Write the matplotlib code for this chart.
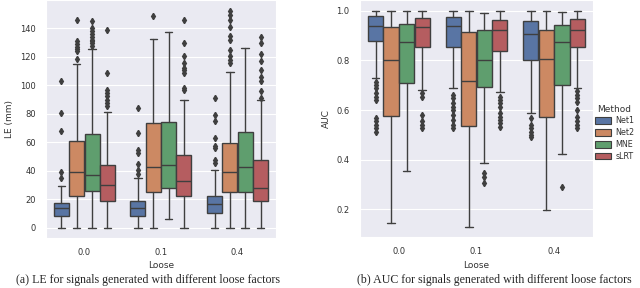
import matplotlib
matplotlib.use('Agg')
import matplotlib.pyplot as plt
from matplotlib.patches import Patch
import seaborn as sns

## Data (rows = methods, cols = loose factors)
loose = ['0.0', '0.1', '0.4']
methods = ['Net1', 'Net2', 'MNE', 'sLRT']

le_whislo = [[0, 0, 0], [0, 0, 0], [0, 6, 0], [0, 0, 0]]
le_q1 = [[8.6, 8.6, 10.7], [22.4, 25.2, 25.2], [25.7, 27.8, 25.2], [19.0, 22.6, 18.9]]
le_med = [[14.0, 13.8, 17.0], [39.2, 42.5, 39.4], [37.0, 44.0, 42.5], [29.9, 32.9, 28.2]]
le_q3 = [[17.7, 19.1, 22.6], [60.7, 73.5, 59.5], [66.0, 74.2, 67.2], [44.0, 51.3, 47.6]]
le_whishi = [[29.4, 34.8, 40.6], [114.8, 132.5, 109.7], [125.8, 137.4, 126.2], [81.2, 90.0, 89.6]]
le_fliers = [
    [[35, 39, 68, 81, 103], [37.6, 41, 44.6, 52.7, 55, 66.7, 84.2], [45.7, 48, 56, 57.4, 63.2, 75, 79, 91.2]],
    [[118.5, 124, 125.5, 127, 129, 131, 146], [149], [115.7, 118, 120.4, 125, 132, 135, 141, 146, 149.6, 152]],
    [[127.4, 129.7, 131, 132, 134, 136, 138, 140, 145.6], [], []],
    [[85.4, 87.7, 90, 92.4, 94.7, 97, 108.7, 138.6], [97, 98.2, 108.7, 110.6, 112.2, 115.7, 120.4, 129.7, 146],
     [91.2, 96, 103, 106, 111, 117, 122, 129.7, 134]],
]

auc_whislo = [[0.728, 0.688, 0.59], [0.144, 0.127, 0.195], [0.355, 0.388, 0.422], [0.681, 0.671, 0.688]]
auc_q1 = [[0.879, 0.856, 0.802], [0.576, 0.537, 0.571], [0.708, 0.695, 0.702], [0.853, 0.839, 0.856]]
auc_med = [[0.94, 0.94, 0.905], [0.80, 0.718, 0.805], [0.876, 0.80, 0.874], [0.934, 0.923, 0.923]]
auc_q3 = [[0.98, 0.974, 0.961], [0.937, 0.914, 0.921], [0.948, 0.923, 0.944], [0.97, 0.964, 0.968]]
auc_whishi = [[1.0, 1.0, 1.0], [1.0, 1.0, 1.0], [1.0, 0.993, 0.995], [1.0, 1.0, 1.0]]
auc_fliers = [
    [[0.715, 0.70, 0.688, 0.668, 0.654, 0.641, 0.567, 0.554, 0.54, 0.527, 0.513],
     [0.661, 0.648, 0.628, 0.614, 0.60, 0.58, 0.56, 0.54, 0.527],
     [0.567, 0.54, 0.527, 0.513, 0.50, 0.493]],
    [[], [], []],
    [[], [0.345, 0.332, 0.305], [0.288]],
    [[0.668, 0.654, 0.58, 0.554, 0.54, 0.527],
     [0.654, 0.641, 0.628, 0.614, 0.587, 0.574, 0.56, 0.547, 0.533],
     [0.675, 0.661, 0.648, 0.634, 0.60, 0.574, 0.554, 0.54, 0.527]],
]

captions = ['(a) LE for signals generated with different loose factors',
            '(b) AUC for signals generated with different loose factors']

## Style
sns.set_style('darkgrid')
colors = [sns.desaturate(c, 0.75) for c in sns.color_palette('deep', 4)]
gray = '#3f3f3f'
offsets = [-0.3, -0.1, 0.1, 0.3]


def draw_boxes(ax, whislo, q1, med, q3, whishi, fliers):
    for m in range(len(methods)):
        stats = []
        for g in range(len(loose)):
            stats.append(dict(whislo=whislo[m][g], q1=q1[m][g], med=med[m][g],
                              q3=q3[m][g], whishi=whishi[m][g], fliers=fliers[m][g]))
        pos = [g + offsets[m] for g in range(len(loose))]
        ax.bxp(stats, positions=pos, widths=0.196, patch_artist=True, manage_ticks=False,
               boxprops=dict(facecolor=colors[m], edgecolor=gray, linewidth=1.0),
               medianprops=dict(color=gray, linewidth=1.0),
               whiskerprops=dict(color=gray, linewidth=1.0),
               capprops=dict(color=gray, linewidth=1.0),
               flierprops=dict(marker='d', markerfacecolor=gray, markeredgecolor=gray,
                               markersize=3.2))
    ax.set_xticks(range(len(loose)))
    ax.set_xticklabels(loose)
    ax.set_xlim(-0.5, 2.5)
    ax.xaxis.grid(False)
    ax.set_xlabel('Loose', fontsize=6.5, color='#333333', labelpad=3)
    ax.tick_params(labelsize=6, colors='#333333', pad=4)


fig = plt.figure(figsize=(6.4, 2.88), dpi=100)
ax1 = fig.add_axes([0.072, 0.174, 0.359, 0.826])
ax2 = fig.add_axes([0.5625, 0.177, 0.364, 0.823])

## Left: LE
draw_boxes(ax1, le_whislo, le_q1, le_med, le_q3, le_whishi, le_fliers)
ax1.set_ylim(-7, 160)
ax1.set_yticks([0, 20, 40, 60, 80, 100, 120, 140])
ax1.set_ylabel('LE (mm)', fontsize=6.5, color='#333333')

## Right: AUC
draw_boxes(ax2, auc_whislo, auc_q1, auc_med, auc_q3, auc_whishi, auc_fliers)
ax2.set_ylim(0.088, 1.044)
ax2.set_yticks([0.2, 0.4, 0.6, 0.8, 1.0])
ax2.set_ylabel('AUC', fontsize=6.5, color='#333333')

handles = [Patch(facecolor=c, edgecolor=gray, linewidth=0.8) for c in colors]
leg = ax2.legend(handles, methods, title='Method', loc='center left', bbox_to_anchor=(1.0, 0.44),
                 frameon=False, fontsize=5.8, title_fontsize=6.5, handlelength=2.0,
                 handleheight=0.9, handletextpad=0.5, labelspacing=0.35,
                 borderpad=0.1, borderaxespad=0.15)
for t in leg.get_texts():
    t.set_color('#333333')
leg.get_title().set_color('#333333')

## Captions
fig.text(0.231, 0.008, captions[0], ha='center', va='bottom', fontsize=8.6, family='Liberation Serif')
fig.text(0.772, 0.008, captions[1], ha='center', va='bottom', fontsize=8.6, family='Liberation Serif')

fig.savefig('out.png', dpi=100)
